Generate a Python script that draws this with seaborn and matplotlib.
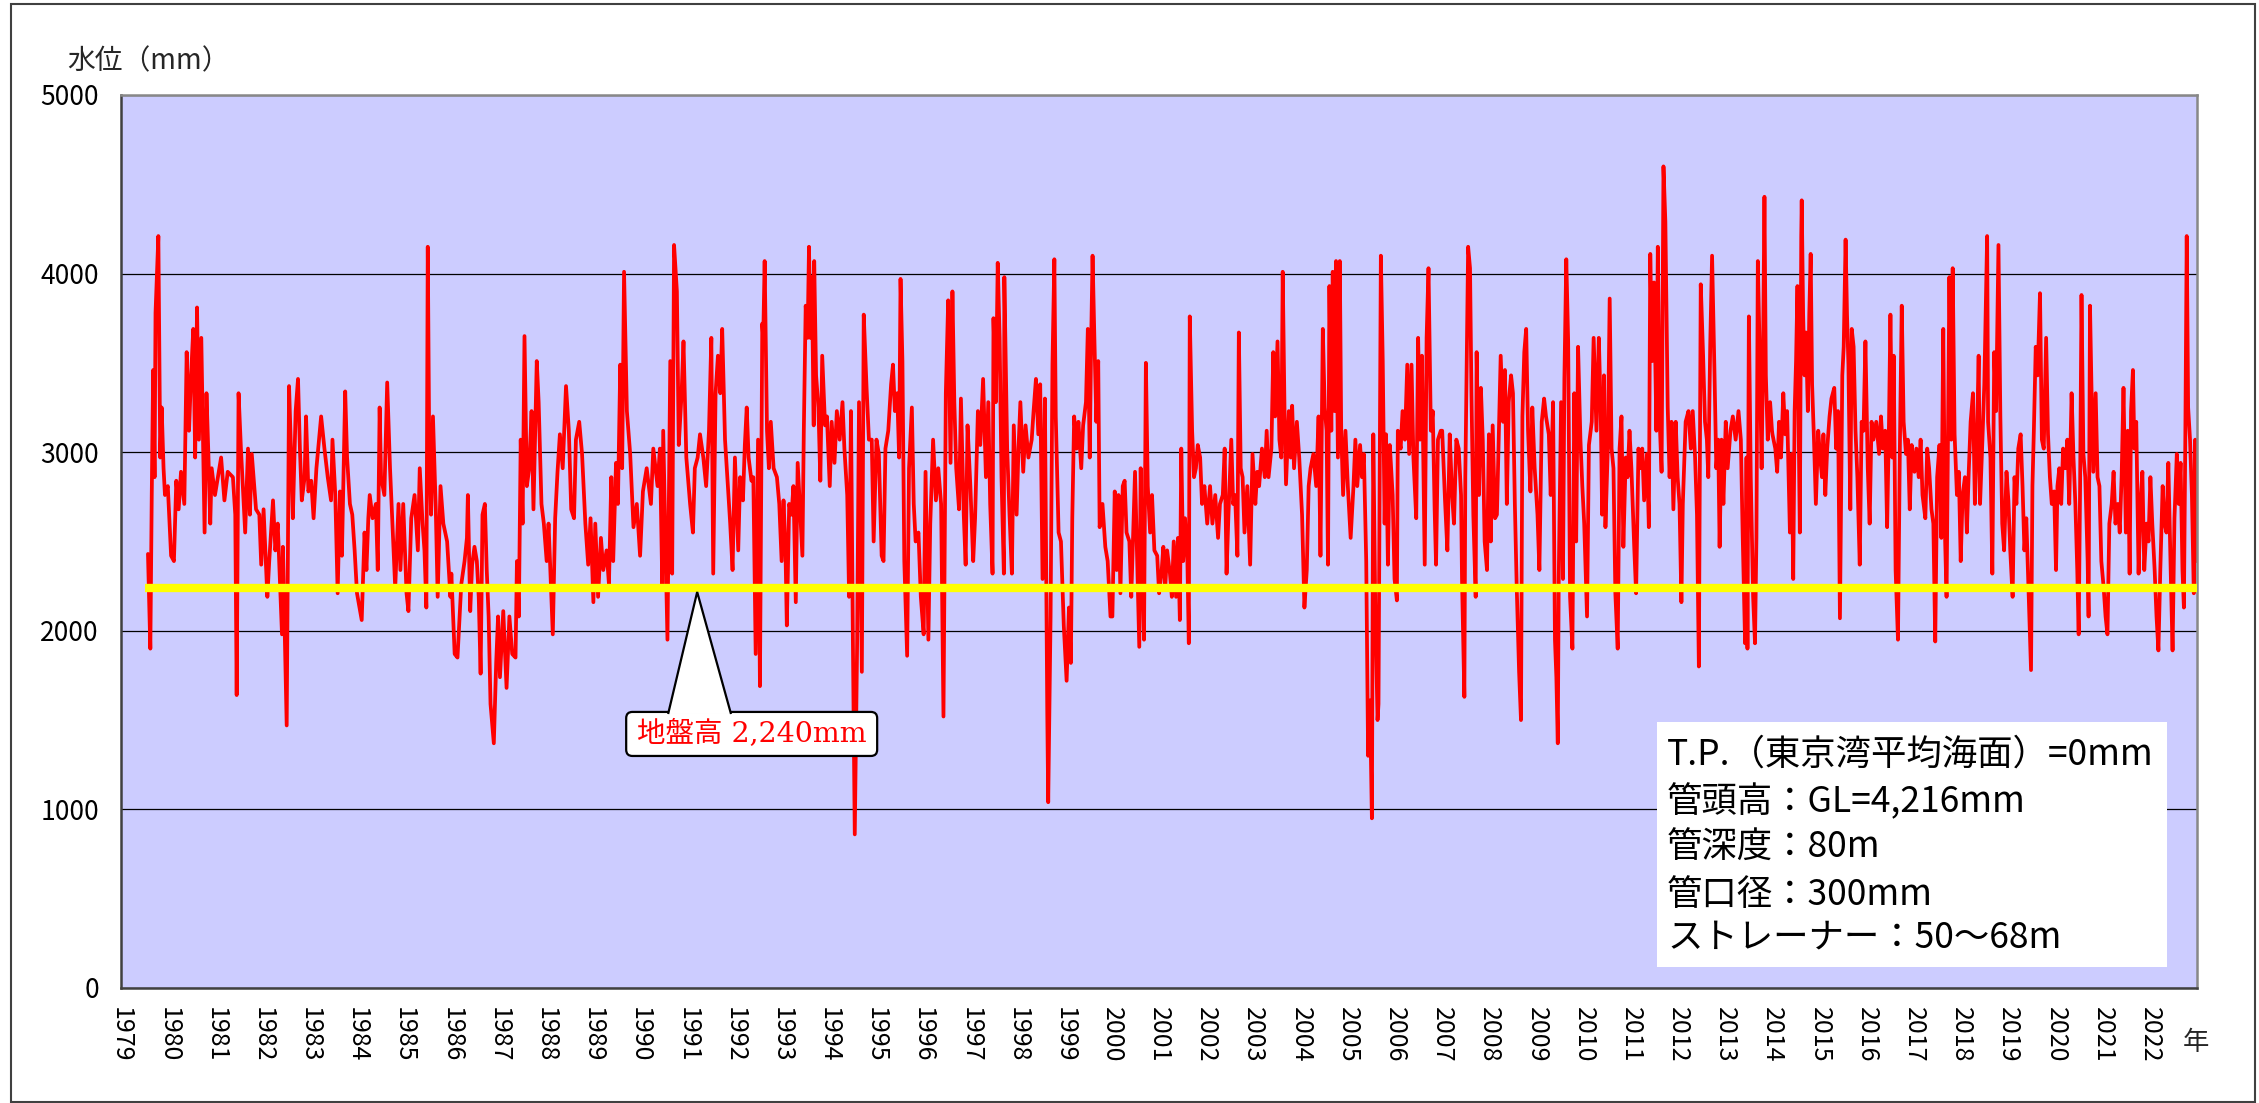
import matplotlib
matplotlib.use("Agg")
import matplotlib.pyplot as plt
import pandas as pd
import seaborn as sns
from matplotlib.patches import FancyBboxPatch, Polygon, Rectangle

# %% data: groundwater level (mm, T.P.), decimal years
t_79_85 = [1979.57, 1979.62, 1979.65, 1979.68, 1979.71, 1979.73, 1979.79, 1979.83, 1979.86, 1979.90, 1979.93, 1979.99,
           1980.06, 1980.12, 1980.17, 1980.22, 1980.27, 1980.34, 1980.39, 1980.44, 1980.48, 1980.53, 1980.57, 1980.61,
           1980.65, 1980.70, 1980.74, 1980.77, 1980.81, 1980.85, 1980.89, 1980.92, 1980.99,
           1981.12, 1981.19, 1981.26, 1981.37, 1981.42, 1981.45, 1981.49, 1981.54, 1981.63, 1981.69, 1981.73, 1981.77,
           1981.86, 1981.93, 1981.97,
           1982.02, 1982.10, 1982.14, 1982.22, 1982.27, 1982.32, 1982.41, 1982.43, 1982.51, 1982.56, 1982.60, 1982.64,
           1982.70, 1982.75, 1982.79, 1982.83, 1982.89, 1982.92, 1982.97,
           1983.03, 1983.08, 1983.14, 1983.24, 1983.31, 1983.38, 1983.45, 1983.48, 1983.54, 1983.59, 1983.64, 1983.68,
           1983.75, 1983.79, 1983.85, 1983.90, 1983.95,
           1984.00, 1984.10, 1984.16, 1984.20, 1984.24, 1984.27, 1984.33, 1984.40, 1984.44, 1984.48, 1984.51, 1984.58,
           1984.64, 1984.70, 1984.75, 1984.81, 1984.88, 1984.92, 1984.98,
           1985.05, 1985.09, 1985.15, 1985.22, 1985.29, 1985.33, 1985.39, 1985.43, 1985.47, 1985.50, 1985.53, 1985.57,
           1985.61, 1985.67, 1985.71, 1985.77, 1985.83, 1985.91, 1985.98]
lv_79_85 = [2430, 1900, 2760, 3460, 2860, 3780, 4210, 2970, 3250, 2910, 2760, 2810,
            2420, 2390, 2840, 2680, 2890, 2710, 3560, 3120, 3410, 3690, 2970, 3810,
            3070, 3640, 3020, 2550, 3330, 2990, 2600, 2910, 2760,
            2970, 2730, 2890, 2860, 2650, 1640, 3330, 3020, 2550, 3020, 2650, 2990,
            2680, 2650, 2370,
            2680, 2190, 2390, 2730, 2450, 2600, 1980, 2470, 1470, 3370, 3020, 2630,
            3230, 3410, 3020, 2730, 2860, 3200, 2780,
            2840, 2630, 2910, 3200, 3020, 2860, 2730, 3070, 2760, 2210, 2780, 2420,
            3340, 2970, 2710, 2650, 2450,
            2210, 2060, 2550, 2340, 2630, 2760, 2630, 2710, 2340, 3250, 2860, 2760,
            3390, 2910, 2600, 2240, 2710, 2340, 2710,
            2210, 2110, 2630, 2760, 2450, 2910, 2600, 2450, 2130, 4150, 3070, 2650,
            3200, 2680, 2190, 2810, 2600, 2500, 2190]

t_86_92 = [1986.00, 1986.07, 1986.13, 1986.17, 1986.21, 1986.28, 1986.33, 1986.35, 1986.40, 1986.44, 1986.49, 1986.54,
           1986.58, 1986.62, 1986.66, 1986.71, 1986.75, 1986.79, 1986.83, 1986.90, 1986.95, 1986.99,
           1987.03, 1987.10, 1987.17, 1987.23, 1987.29, 1987.36, 1987.39, 1987.43, 1987.47, 1987.51, 1987.55, 1987.60,
           1987.65, 1987.70, 1987.74, 1987.81, 1987.85, 1987.91, 1987.96,
           1988.02, 1988.06, 1988.15, 1988.20, 1988.25, 1988.30, 1988.36, 1988.43, 1988.49, 1988.54, 1988.60, 1988.64,
           1988.71, 1988.77, 1988.84, 1988.90, 1988.95,
           1989.01, 1989.05, 1989.11, 1989.17, 1989.22, 1989.29, 1989.34, 1989.39, 1989.43, 1989.49, 1989.53, 1989.58,
           1989.62, 1989.66, 1989.72, 1989.79, 1989.86, 1989.93,
           1990.00, 1990.06, 1990.14, 1990.23, 1990.28, 1990.37, 1990.42, 1990.47, 1990.49, 1990.58, 1990.64, 1990.68,
           1990.72, 1990.78, 1990.82, 1990.88, 1990.92, 1990.98,
           1991.06, 1991.12, 1991.16, 1991.22, 1991.27, 1991.34, 1991.40, 1991.46, 1991.51, 1991.55, 1991.60, 1991.65,
           1991.70, 1991.74, 1991.80, 1991.85, 1991.91, 1991.96,
           1992.01, 1992.08, 1992.12, 1992.18, 1992.22, 1992.26, 1992.30, 1992.36, 1992.40, 1992.45, 1992.50, 1992.54,
           1992.59, 1992.61, 1992.64, 1992.69, 1992.73, 1992.77, 1992.83, 1992.90, 1992.95]
lv_86_92 = [2320, 1870, 1850, 2060, 2260, 2390, 2520, 2760, 2110, 2370, 2470, 2390,
            2190, 1760, 2650, 2710, 2340, 2080, 1590, 1370, 1820, 2080,
            1740, 2110, 1680, 2080, 1870, 1850, 2390, 2080, 3070, 2600, 3650, 2810,
            2910, 3230, 2680, 3510, 3280, 2710, 2600,
            2390, 2600, 1980, 2630, 2890, 3100, 2910, 3370, 3120, 2680, 2630, 3070,
            3170, 2990, 2600, 2370, 2630,
            2160, 2600, 2190, 2520, 2340, 2450, 2260, 2860, 2390, 2940, 2710, 3490,
            2910, 4010, 3230, 2990, 2580, 2710,
            2420, 2780, 2910, 2710, 3020, 2810, 3020, 2260, 3120, 1950, 3510, 2320,
            4160, 3900, 3040, 3330, 3620, 2970,
            2710, 2550, 2910, 2970, 3100, 2970, 2810, 3120, 3640, 2320, 3330, 3540,
            3330, 3690, 3070, 2860, 2600, 2340,
            2970, 2450, 2860, 2730, 3040, 3250, 2970, 2840, 2860, 1870, 3070, 1690,
            3720, 3640, 4070, 3120, 2910, 3170, 2910, 2860, 2710]

t_93_99 = [1993.00, 1993.04, 1993.08, 1993.11, 1993.16, 1993.21, 1993.25, 1993.30, 1993.34, 1993.38, 1993.44, 1993.47,
           1993.51, 1993.55, 1993.58, 1993.61, 1993.64, 1993.68, 1993.69, 1993.73, 1993.78, 1993.82, 1993.86, 1993.92,
           1993.96,
           1994.02, 1994.06, 1994.12, 1994.17, 1994.23, 1994.29, 1994.33, 1994.39, 1994.43, 1994.47, 1994.51, 1994.55,
           1994.60, 1994.64, 1994.70, 1994.74, 1994.80, 1994.85, 1994.91, 1994.95,
           1995.01, 1995.06, 1995.12, 1995.16, 1995.20, 1995.26, 1995.32, 1995.36, 1995.40, 1995.45, 1995.49, 1995.52,
           1995.56, 1995.60, 1995.66, 1995.70, 1995.76, 1995.80, 1995.84, 1995.90, 1995.95,
           1996.01, 1996.05, 1996.11, 1996.15, 1996.21, 1996.27, 1996.32, 1996.38, 1996.43, 1996.48, 1996.53, 1996.58,
           1996.62, 1996.66, 1996.70, 1996.76, 1996.80, 1996.86, 1996.90, 1996.94,
           1997.00, 1997.06, 1997.10, 1997.16, 1997.21, 1997.27, 1997.33, 1997.38, 1997.42, 1997.47, 1997.49, 1997.54,
           1997.58, 1997.62, 1997.66, 1997.71, 1997.72, 1997.78, 1997.83, 1997.88, 1997.92, 1997.98,
           1998.02, 1998.06, 1998.12, 1998.17, 1998.23, 1998.30, 1998.34, 1998.39, 1998.44, 1998.48, 1998.53, 1998.58,
           1998.63, 1998.65, 1998.70, 1998.74, 1998.78, 1998.81, 1998.87, 1998.92, 1998.98,
           1999.04, 1999.09, 1999.13, 1999.16, 1999.20, 1999.25, 1999.29, 1999.35, 1999.39, 1999.45, 1999.49, 1999.53,
           1999.56, 1999.59, 1999.63, 1999.67, 1999.71, 1999.74, 1999.80, 1999.86, 1999.91, 1999.97]
lv_93_99 = [2390, 2730, 2470, 2030, 2710, 2650, 2810, 2160, 2940, 2730, 2420, 3120,
            3820, 3640, 4150, 3640, 3980, 3150, 4070, 3430, 3250, 2840, 3540, 3150,
            3200,
            2810, 3170, 2940, 3230, 3070, 3280, 3020, 2760, 2190, 3230, 1950, 860,
            1930, 3280, 1770, 3770, 3360, 3070, 3070, 2500,
            3070, 2990, 2420, 2390, 3020, 3120, 3380, 3490, 3230, 3330, 2970, 3970,
            3510, 2390, 1860, 2910, 3250, 2710, 2500, 2550, 2190,
            1980, 2890, 1950, 2600, 3070, 2730, 2910, 2710, 1520, 3330, 3850, 2940,
            3900, 3280, 2910, 2680, 3300, 2650, 2370, 3150,
            2810, 2390, 2630, 3230, 3040, 3410, 2860, 3280, 2710, 2320, 3750, 3280,
            4060, 3640, 2860, 2320, 3980, 3020, 2650, 2320, 3150, 2650,
            3020, 3280, 2890, 3150, 2970, 3070, 3230, 3410, 3100, 3380, 2290, 3300,
            1540, 1040, 2080, 3490, 4080, 3200, 2550, 2500, 2030,
            1720, 2130, 1820, 2630, 3200, 3020, 3170, 2910, 3150, 3280, 3690, 2970,
            3620, 4100, 3620, 3170, 3510, 2580, 2710, 2470, 2390, 2080]

t_00_06 = [2000.01, 2000.06, 2000.10, 2000.14, 2000.18, 2000.23, 2000.27, 2000.31, 2000.37, 2000.41, 2000.45, 2000.49,
           2000.54, 2000.58, 2000.61, 2000.64, 2000.68, 2000.72, 2000.76, 2000.81, 2000.85, 2000.90, 2000.96,
           2001.00, 2001.05, 2001.09, 2001.13, 2001.17, 2001.23, 2001.27, 2001.31, 2001.36, 2001.40, 2001.44, 2001.47,
           2001.51, 2001.55, 2001.60, 2001.63, 2001.65, 2001.70, 2001.74, 2001.78, 2001.82, 2001.87, 2001.91, 2001.96,
           2002.02, 2002.08, 2002.13, 2002.19, 2002.25, 2002.29, 2002.35, 2002.39, 2002.43, 2002.47, 2002.53, 2002.57,
           2002.61, 2002.66, 2002.69, 2002.73, 2002.77, 2002.81, 2002.87, 2002.93, 2002.98,
           2003.04, 2003.08, 2003.12, 2003.18, 2003.24, 2003.28, 2003.32, 2003.38, 2003.42, 2003.46, 2003.51, 2003.55,
           2003.59, 2003.62, 2003.66, 2003.69, 2003.75, 2003.79, 2003.82, 2003.86, 2003.92, 2003.97,
           2004.03, 2004.08, 2004.13, 2004.17, 2004.21, 2004.27, 2004.33, 2004.38, 2004.42, 2004.47, 2004.51, 2004.55,
           2004.58, 2004.61, 2004.65, 2004.68, 2004.72, 2004.75, 2004.79, 2004.83, 2004.86, 2004.90, 2004.95,
           2005.00, 2005.06, 2005.12, 2005.16, 2005.20, 2005.26, 2005.30, 2005.34, 2005.39, 2005.43, 2005.47, 2005.51,
           2005.54, 2005.58, 2005.63, 2005.65, 2005.70, 2005.74, 2005.78, 2005.81, 2005.85, 2005.89, 2005.95, 2005.99,
           2006.04, 2006.06, 2006.12, 2006.16, 2006.21, 2006.26, 2006.30, 2006.35, 2006.39, 2006.45, 2006.49, 2006.53,
           2006.57, 2006.63, 2006.67, 2006.71, 2006.76, 2006.80, 2006.84, 2006.87, 2006.91, 2006.97]
lv_00_06 = [2080, 2780, 2340, 2760, 2210, 2810, 2840, 2550, 2500, 2190, 2550, 2890,
            2340, 1910, 2910, 2420, 1950, 3500, 2810, 2550, 2760, 2450, 2420,
            2210, 2320, 2470, 2240, 2450, 2320, 2190, 2500, 2190, 2520, 2060, 3020,
            2390, 2630, 2390, 1930, 3760, 3120, 2860, 2910, 3040, 2970, 2710, 2810,
            2600, 2810, 2600, 2760, 2520, 2710, 2760, 3020, 2320, 2650, 3070, 2710,
            2760, 2420, 3670, 2910, 2860, 2550, 2810, 2370, 2990,
            2710, 2890, 2810, 3020, 2860, 3120, 2860, 3020, 3560, 3200, 3620, 3070,
            2970, 4010, 3200, 2820, 3230, 2970, 3260, 2910, 3170, 2970,
            2650, 2130, 2340, 2810, 2910, 2990, 2810, 3200, 2420, 3690, 3250, 3120,
            2370, 3930, 3120, 4010, 3230, 4070, 2970, 4070, 3120, 2760, 3120,
            2810, 2520, 2810, 3070, 2810, 3040, 2860, 2990, 2390, 1300, 1610, 950,
            3100, 2160, 1500, 1590, 4100, 3510, 2600, 3100, 2370, 3040, 2760, 2290,
            2170, 3120, 3020, 3230, 3070, 3490, 2990, 3490, 2970, 2630, 3640, 3070,
            3540, 2370, 3640, 4030, 3120, 3230, 2680, 2370, 3070, 3120]

t_07_13 = [2007.00, 2007.06, 2007.11, 2007.16, 2007.21, 2007.25, 2007.30, 2007.35, 2007.40, 2007.42, 2007.47, 2007.49,
           2007.52, 2007.55, 2007.59, 2007.62, 2007.66, 2007.71, 2007.73, 2007.78, 2007.82, 2007.86, 2007.90, 2007.95,
           2007.99,
           2008.03, 2008.07, 2008.12, 2008.16, 2008.19, 2008.24, 2008.29, 2008.33, 2008.37, 2008.41, 2008.46, 2008.50,
           2008.54, 2008.58, 2008.63, 2008.67, 2008.70, 2008.74, 2008.78, 2008.82, 2008.87, 2008.91, 2008.96,
           2009.02, 2009.06, 2009.11, 2009.16, 2009.20, 2009.26, 2009.30, 2009.35, 2009.39, 2009.42, 2009.45, 2009.47,
           2009.52, 2009.56, 2009.59, 2009.63, 2009.67, 2009.71, 2009.76, 2009.80, 2009.84, 2009.88, 2009.93, 2009.97,
           2010.01, 2010.07, 2010.11, 2010.17, 2010.21, 2010.27, 2010.32, 2010.36, 2010.39, 2010.43, 2010.46, 2010.51,
           2010.55, 2010.59, 2010.63, 2010.67, 2010.72, 2010.76, 2010.80, 2010.84, 2010.89, 2010.93, 2010.97,
           2011.01, 2011.07, 2011.11, 2011.16, 2011.20, 2011.24, 2011.28, 2011.34, 2011.38, 2011.41, 2011.45, 2011.49,
           2011.54, 2011.57, 2011.61, 2011.65, 2011.69, 2011.73, 2011.78, 2011.82, 2011.86, 2011.90, 2011.95, 2011.99,
           2012.03, 2012.07, 2012.10, 2012.16, 2012.22, 2012.27, 2012.31, 2012.36, 2012.40, 2012.44, 2012.48, 2012.53,
           2012.57, 2012.61, 2012.64, 2012.68, 2012.72, 2012.77, 2012.81, 2012.85, 2012.88, 2012.92, 2012.96,
           2013.01, 2013.05, 2013.11, 2013.16, 2013.22, 2013.28, 2013.33, 2013.37, 2013.42, 2013.45, 2013.47, 2013.50,
           2013.54, 2013.59, 2013.63, 2013.66, 2013.69, 2013.73, 2013.77, 2013.80, 2013.83, 2013.86, 2013.90, 2013.95,
           2013.99]
lv_07_13 = [3120, 2730, 2450, 3100, 2760, 2600, 3070, 3020, 2760, 2290, 1630, 2860,
            3510, 4150, 4030, 3330, 2650, 2190, 3560, 2760, 3360, 3070, 2500, 2340,
            3100,
            2500, 3150, 2630, 2650, 2990, 3540, 3170, 3460, 2710, 3280, 3430, 3330,
            2710, 2240, 1770, 1500, 3200, 3560, 3690, 3120, 2780, 3250, 2910,
            2650, 2340, 3170, 3300, 3200, 3100, 2760, 3280, 1950, 1740, 1370, 2290,
            3280, 2290, 3410, 4080, 3620, 2190, 1900, 3330, 2500, 3590, 3070, 2810,
            2600, 2080, 3040, 3170, 3640, 3120, 3640, 3230, 2650, 3430, 2580, 3020,
            3860, 3020, 2910, 2210, 1900, 3020, 3200, 2470, 2970, 2860, 3120,
            2910, 2470, 2210, 3020, 2910, 3020, 2730, 2990, 2580, 4110, 3510, 3950,
            3120, 4150, 3170, 2890, 4600, 4290, 3250, 2860, 3170, 2680, 3170, 2860,
            2710, 2160, 2710, 3170, 3230, 3020, 3230, 2970, 2650, 1800, 3940, 3540,
            3170, 3070, 2860, 3590, 4100, 3460, 2910, 3070, 2470, 3070, 2710,
            3170, 2910, 3120, 3200, 3070, 3230, 3070, 2520, 1930, 2970, 1900, 3760,
            2860, 2190, 1930, 2520, 4070, 3540, 2910, 3540, 4430, 3430, 3070, 3280,
            3120]

t_14_22 = [2014.00, 2014.06, 2014.10, 2014.14, 2014.18, 2014.23, 2014.27, 2014.31, 2014.37, 2014.41, 2014.44, 2014.47,
           2014.50, 2014.53, 2014.55, 2014.58, 2014.61, 2014.62, 2014.65, 2014.68, 2014.71, 2014.75, 2014.78, 2014.81,
           2014.84, 2014.88, 2014.92, 2014.97,
           2015.01, 2015.05, 2015.08, 2015.12, 2015.16, 2015.21, 2015.25, 2015.31, 2015.35, 2015.39, 2015.43, 2015.48,
           2015.51, 2015.55, 2015.58, 2015.61, 2015.65, 2015.68, 2015.72, 2015.76, 2015.80, 2015.85, 2015.89, 2015.93,
           2015.97,
           2016.02, 2016.06, 2016.10, 2016.14, 2016.20, 2016.26, 2016.30, 2016.34, 2016.39, 2016.43, 2016.47, 2016.50,
           2016.54, 2016.57, 2016.61, 2016.66, 2016.70, 2016.74, 2016.78, 2016.83, 2016.87, 2016.91, 2016.95,
           2017.01, 2017.05, 2017.10, 2017.14, 2017.18, 2017.24, 2017.28, 2017.32, 2017.37, 2017.41, 2017.45, 2017.49,
           2017.54, 2017.58, 2017.62, 2017.66, 2017.69, 2017.72, 2017.75, 2017.79, 2017.82, 2017.86, 2017.91, 2017.95,
           2017.99,
           2018.03, 2018.08, 2018.12, 2018.16, 2018.20, 2018.25, 2018.29, 2018.33, 2018.37, 2018.40, 2018.45, 2018.49,
           2018.52, 2018.55, 2018.57, 2018.62, 2018.66, 2018.70, 2018.74, 2018.79, 2018.83, 2018.87, 2018.91, 2018.96,
           2019.00, 2019.04, 2019.09, 2019.13, 2019.17, 2019.21, 2019.26, 2019.30, 2019.34, 2019.38, 2019.43, 2019.45,
           2019.48, 2019.51, 2019.54, 2019.58, 2019.62, 2019.67, 2019.71, 2019.75, 2019.80, 2019.84, 2019.88, 2019.92,
           2019.97,
           2020.01, 2020.04, 2020.08, 2020.12, 2020.16, 2020.21, 2020.25, 2020.29, 2020.34, 2020.38, 2020.42, 2020.46,
           2020.49, 2020.52, 2020.55, 2020.59, 2020.63, 2020.68, 2020.70, 2020.73, 2020.76, 2020.80, 2020.85, 2020.89,
           2020.93, 2020.97,
           2021.02, 2021.06, 2021.10, 2021.14, 2021.19, 2021.23, 2021.27, 2021.32, 2021.36, 2021.40, 2021.44, 2021.49,
           2021.53, 2021.57, 2021.60, 2021.64, 2021.67, 2021.71, 2021.76, 2021.80, 2021.84, 2021.88, 2021.93, 2021.97,
           2022.01, 2022.05, 2022.10, 2022.14, 2022.18, 2022.22, 2022.27, 2022.31, 2022.35, 2022.39, 2022.44, 2022.48,
           2022.52, 2022.57, 2022.61, 2022.65, 2022.69, 2022.72, 2022.75, 2022.78, 2022.81, 2022.85, 2022.89, 2022.93,
           2022.96, 2022.99]
lv_14_22 = [3100, 3020, 2890, 3170, 2970, 3330, 3100, 3230, 2550, 2990, 2290, 3230,
            3510, 3930, 3280, 2550, 4210, 4410, 3770, 3430, 3670, 3230, 3770, 4110,
            3380, 3070, 2710, 3120,
            2970, 2860, 3100, 2760, 3020, 3200, 3300, 3360, 3020, 3230, 2070, 3430,
            3590, 4190, 3770, 3490, 2680, 3690, 3590, 3120, 2860, 2370, 3170, 3120,
            3620,
            2910, 2600, 3170, 3070, 3170, 2990, 3200, 3020, 3120, 2580, 3170, 3770,
            2970, 3540, 2340, 1950, 3020, 3820, 3170, 2990, 3070, 2680, 3040,
            2890, 3020, 2860, 3070, 2760, 2630, 3020, 2910, 2680, 2600, 1940, 2860,
            3040, 2520, 3690, 2500, 2190, 3120, 3980, 3070, 4030, 3100, 2760, 2890,
            2390,
            2760, 2860, 2550, 2890, 3170, 3330, 2710, 3020, 3540, 2710, 3070, 3380,
            3800, 4210, 3170, 2970, 2320, 3560, 3230, 4160, 3200, 2600, 2450, 2890,
            2730, 2450, 2190, 2860, 2710, 3020, 3100, 2810, 2450, 2630, 2210, 2040,
            1780, 2810, 3120, 3590, 3430, 3890, 3070, 3020, 3640, 3100, 2860, 2710,
            2780,
            2340, 2810, 2910, 2710, 3020, 2910, 3070, 2710, 3330, 2970, 2710, 2340,
            1980, 2810, 3880, 2990, 2860, 2390, 2080, 3820, 3380, 2890, 3330, 2860,
            2810, 2390,
            2240, 2080, 1980, 2600, 2710, 2890, 2600, 2710, 2550, 2860, 3360, 2550,
            3120, 2320, 3230, 3460, 3020, 3170, 2320, 2710, 2890, 2340, 2600, 2500,
            2860, 2600, 2340, 2080, 1890, 2340, 2810, 2600, 2550, 2940, 2340, 1890,
            2630, 2990, 2710, 2940, 2340, 2130, 3070, 4210, 3250, 3070, 2760, 2210,
            3070, 2390]

GROUND_LEVEL = 2240  # 地盤高 (mm)
year_ticks = list(range(1979, 2023))
level_ticks = [0, 1000, 2000, 3000, 4000, 5000]
info_lines = [
    "T.P.（東京湾平均海面）=0mm",
    "管頭高：GL=4,216mm",
    "管深度：80m",
    "管口径：300mm",
    "ストレーナー：50～68m",
]

# %% build frame
df = pd.DataFrame({
    "year": t_79_85 + t_86_92 + t_93_99 + t_00_06 + t_07_13 + t_14_22,
    "level": lv_79_85 + lv_86_92 + lv_93_99 + lv_00_06 + lv_07_13 + lv_14_22,
})

sns.set_style("white")
plt.rcParams["font.family"] = ["Noto Sans CJK JP", "DejaVu Sans"]

fig = plt.figure(figsize=(22.59, 11.03), dpi=100)
ax = fig.add_axes([0.0536, 0.1043, 0.9190, 0.8096])
ax.set_facecolor("#ccccff")

sns.lineplot(data=df, x="year", y="level", ax=ax, color="#ff0000",
             linewidth=2.7, estimator=None, sort=False, zorder=2)
ax.hlines(GROUND_LEVEL, df["year"].min() - 0.06, 2023, color="#ffff00",
          linewidth=6, zorder=3)

ax.set_xlim(1979, 2023)
ax.set_ylim(0, 5000)
ax.set_xlabel("")
ax.set_ylabel("")

ax.set_yticks(level_ticks)
ax.set_xticks(year_ticks)
ax.set_xticklabels([str(y) for y in year_ticks], rotation=-90)
ax.tick_params(axis="x", direction="in", length=7, width=1, pad=13.5,
               labelsize=18, colors="black")
ax.tick_params(axis="y", direction="in", length=6, width=1, pad=16,
               labelsize=19, colors="black")

ax.yaxis.grid(True, color="black", linewidth=0.9)
ax.xaxis.grid(False)
ax.set_axisbelow(True)

for side in ["left", "bottom"]:
    ax.spines[side].set_color("#404040")
    ax.spines[side].set_linewidth(1.8)
for side in ["top", "right"]:
    ax.spines[side].set_color("#888888")
    ax.spines[side].set_linewidth(1.8)

# axis captions
fig.text(67 / 2259, 1 - 61 / 1103, "水位（mm）", fontsize=20, ha="left", va="center")
fig.text(2196 / 2259, 1 - 1043 / 1103, "年", fontsize=19, ha="center", va="center")

# callout for ground level
aspect = (0.9190 * 2259) / (0.8096 * 1103)
callout = FancyBboxPatch((0.2433, 0.2598), 0.1209, 0.0493,
                         boxstyle="round,pad=0,rounding_size=0.003",
                         mutation_aspect=aspect, transform=ax.transAxes,
                         fc="white", ec="black", lw=1.6, zorder=5)
ax.add_patch(callout)
pointer = Polygon([(0.2635, 0.3068), (0.2775, 0.4434), (0.2938, 0.3068)],
                  closed=False, transform=ax.transAxes,
                  fc="white", ec="black", lw=1.6, zorder=6)
ax.add_patch(pointer)
ax.text(0.3037, 0.2844, "地盤高 2,240mm", transform=ax.transAxes,
        ha="center", va="center", color="#ff0000", fontsize=20.5,
        family=["DejaVu Serif", "Noto Sans CJK JP"], zorder=7)

# well info box
ax.add_patch(Rectangle((0.7399, 0.0235), 0.2457, 0.2744, transform=ax.transAxes,
                       fc="white", ec="none", zorder=5))
line_y = [0.2609, 0.2083, 0.1568, 0.1041, 0.0560]
for txt, yy in zip(info_lines, line_y):
    ax.text(0.7447, yy, txt, transform=ax.transAxes, ha="left", va="center",
            fontsize=25.5, color="black", zorder=7)

# outer frame
fig.add_artist(Rectangle((11 / 2259, 1 / 1103), 2244 / 2259, 1098 / 1103,
                         transform=fig.transFigure, fill=False,
                         ec="#404040", lw=1.5))

fig.savefig("out.png", dpi=100)
